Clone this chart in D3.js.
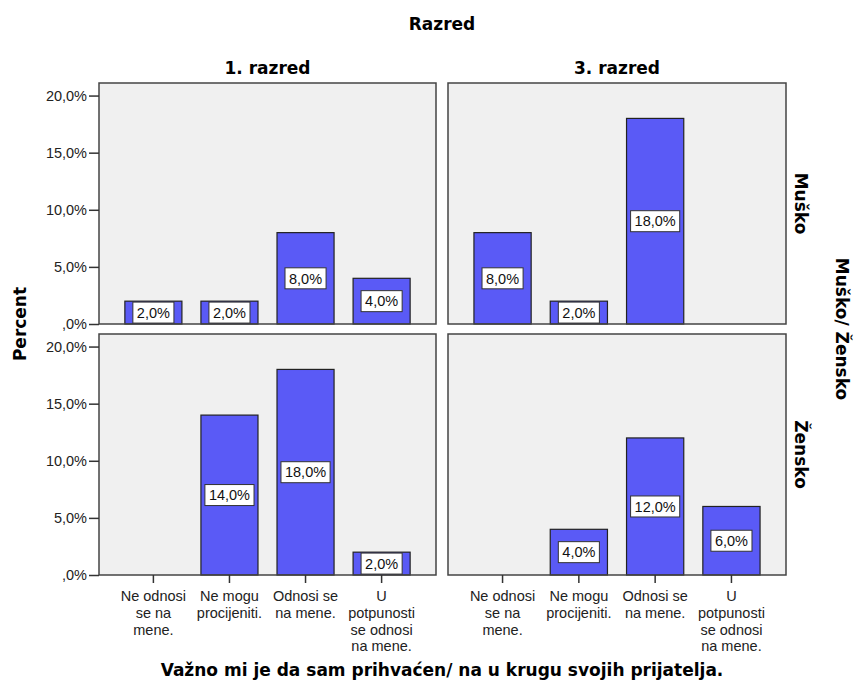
<!DOCTYPE html>
<html>
<head>
<meta charset="utf-8">
<script src="https://cdn.jsdelivr.net/npm/d3@7"></script>
<style>
  body { margin: 0; background: #fff; }
  text { font-family: "Liberation Sans", Arial, sans-serif; }
  .ttl { font-family: "DejaVu Sans", Verdana, sans-serif; font-weight: bold; font-size: 17px; }
</style>
</head>
<body>
<div id="chart"></div>
<script>
// data
var categories = ["Ne odnosi se na mene.", "Ne mogu procijeniti.", "Odnosi se na mene.", "U potpunosti se odnosi na mene."]
var catLines = [["Ne odnosi", "se na", "mene."], ["Ne mogu", "procijeniti."], ["Odnosi se", "na mene."], ["U", "potpunosti", "se odnosi", "na mene."]]
var grades = ["1. razred", "3. razred"]
var genders = ["Muško", "Žensko"]
var musko1 = [2, 2, 8, 4]
var musko3 = [8, 2, 18, 0]
var zensko1 = [0, 14, 18, 2]
var zensko3 = [0, 4, 12, 6]
var yTicks = [0, 5, 10, 15, 20]

var values = [[musko1, musko3], [zensko1, zensko3]]

var width = 857, height = 682
var svg = d3.select("#chart").append("svg")
  .attr("width", width).attr("height", height)

var colX = [[99, 436], [448, 786]]
var rowY = [[83, 324], [334, 575]]

var fmt = function(v) { return (v === 0 ? "" : v) + ",0%" }

genders.forEach(function(g, r) {
  grades.forEach(function(gr, c) {
    var x = d3.scaleBand().domain(categories).range(colX[c]).paddingInner(0.25).paddingOuter(0.34)
    var y = d3.scaleLinear().domain([0, 21.1]).range([rowY[r][1], rowY[r][0]])
    var g0 = svg.append("g")

    g0.append("rect")
      .attr("x", colX[c][0]).attr("y", rowY[r][0])
      .attr("width", colX[c][1] - colX[c][0]).attr("height", rowY[r][1] - rowY[r][0])
      .attr("fill", "#f0f0f0")

    var data = values[r][c].map(function(v, i) { return {cat: categories[i], v: v} })
      .filter(function(d) { return d.v > 0 })

    g0.selectAll(".bar").data(data).enter().append("rect")
      .attr("class", "bar")
      .attr("x", function(d) { return x(d.cat) })
      .attr("y", function(d) { return y(d.v) })
      .attr("width", x.bandwidth())
      .attr("height", function(d) { return y(0) - y(d.v) })
      .attr("fill", "#5a5af6")
      .attr("stroke", "#222").attr("stroke-width", 1.2)

    g0.append("rect")
      .attr("x", colX[c][0]).attr("y", rowY[r][0])
      .attr("width", colX[c][1] - colX[c][0]).attr("height", rowY[r][1] - rowY[r][0])
      .attr("fill", "none").attr("stroke", "#444").attr("stroke-width", 1.5)

    // labels in boxes at the middle of each bar
    var lab = g0.selectAll(".lab").data(data).enter().append("g")
      .attr("transform", function(d) {
        return "translate(" + (x(d.cat) + x.bandwidth() / 2) + "," + ((y(0) + y(d.v)) / 2) + ")"
      })
    var box = lab.append("rect")
      .attr("fill", "#fff").attr("stroke", "#333").attr("stroke-width", 1)
    var txt = lab.append("text")
      .attr("text-anchor", "middle").attr("dy", "0.36em")
      .attr("font-size", "14.5px").attr("fill", "#111")
      .text(function(d) { return fmt(d.v) })
    txt.each(function(d, i) {
      var w = this.getComputedTextLength() + 8
      d3.select(box.nodes()[i])
        .attr("x", -w / 2).attr("y", -10.5).attr("width", w).attr("height", 21)
    })

    if (c === 0) {
      var ya = svg.append("g")
        .attr("transform", "translate(" + colX[c][0] + ",0)")
        .call(d3.axisLeft(y).tickValues(yTicks).tickSize(10).tickPadding(2).tickFormat(fmt))
      ya.select(".domain").remove()
      ya.selectAll("line").attr("stroke", "#333").attr("stroke-width", 1.5)
      ya.selectAll("text").attr("font-size", "14.5px").attr("fill", "#222")
        .attr("font-family", "Liberation Sans, Arial, sans-serif")
    }
    if (r === 1) {
      var xa = svg.append("g")
        .attr("transform", "translate(0," + rowY[r][1] + ")")
        .call(d3.axisBottom(x).tickSize(8).tickFormat(""))
      xa.select(".domain").remove()
      xa.selectAll("line").attr("stroke", "#333").attr("stroke-width", 1.5)
      categories.forEach(function(cat, i) {
        var t = svg.append("text")
          .attr("x", x(cat) + x.bandwidth() / 2).attr("y", rowY[r][1] + 26)
          .attr("text-anchor", "middle").attr("font-size", "14.5px").attr("fill", "#222")
        catLines[i].forEach(function(line, k) {
          t.append("tspan").attr("x", x(cat) + x.bandwidth() / 2)
            .attr("dy", k === 0 ? 0 : 16.8).text(line)
        })
      })
    }
    if (r === 0) {
      svg.append("text").attr("class", "ttl")
        .attr("x", (colX[c][0] + colX[c][1]) / 2).attr("y", 74)
        .attr("text-anchor", "middle").text(gr)
    }
  })
  svg.append("text").attr("class", "ttl")
    .attr("transform", "translate(795," + ((rowY[r][0] + rowY[r][1]) / 2) + ") rotate(90)")
    .attr("text-anchor", "middle").text(g)
})

svg.append("text").attr("class", "ttl")
  .attr("x", 442).attr("y", 30).attr("text-anchor", "middle").text("Razred")
svg.append("text").attr("class", "ttl")
  .attr("transform", "translate(836,329) rotate(90)")
  .attr("text-anchor", "middle").text("Muško/ Žensko")
svg.append("text").attr("class", "ttl")
  .attr("transform", "translate(26,324) rotate(-90)")
  .attr("text-anchor", "middle").text("Percent")
svg.append("text").attr("class", "ttl")
  .attr("x", 442).attr("y", 676).attr("text-anchor", "middle")
  .text("Važno mi je da sam prihvaćen/ na u krugu svojih prijatelja.")
</script>
</body>
</html>
